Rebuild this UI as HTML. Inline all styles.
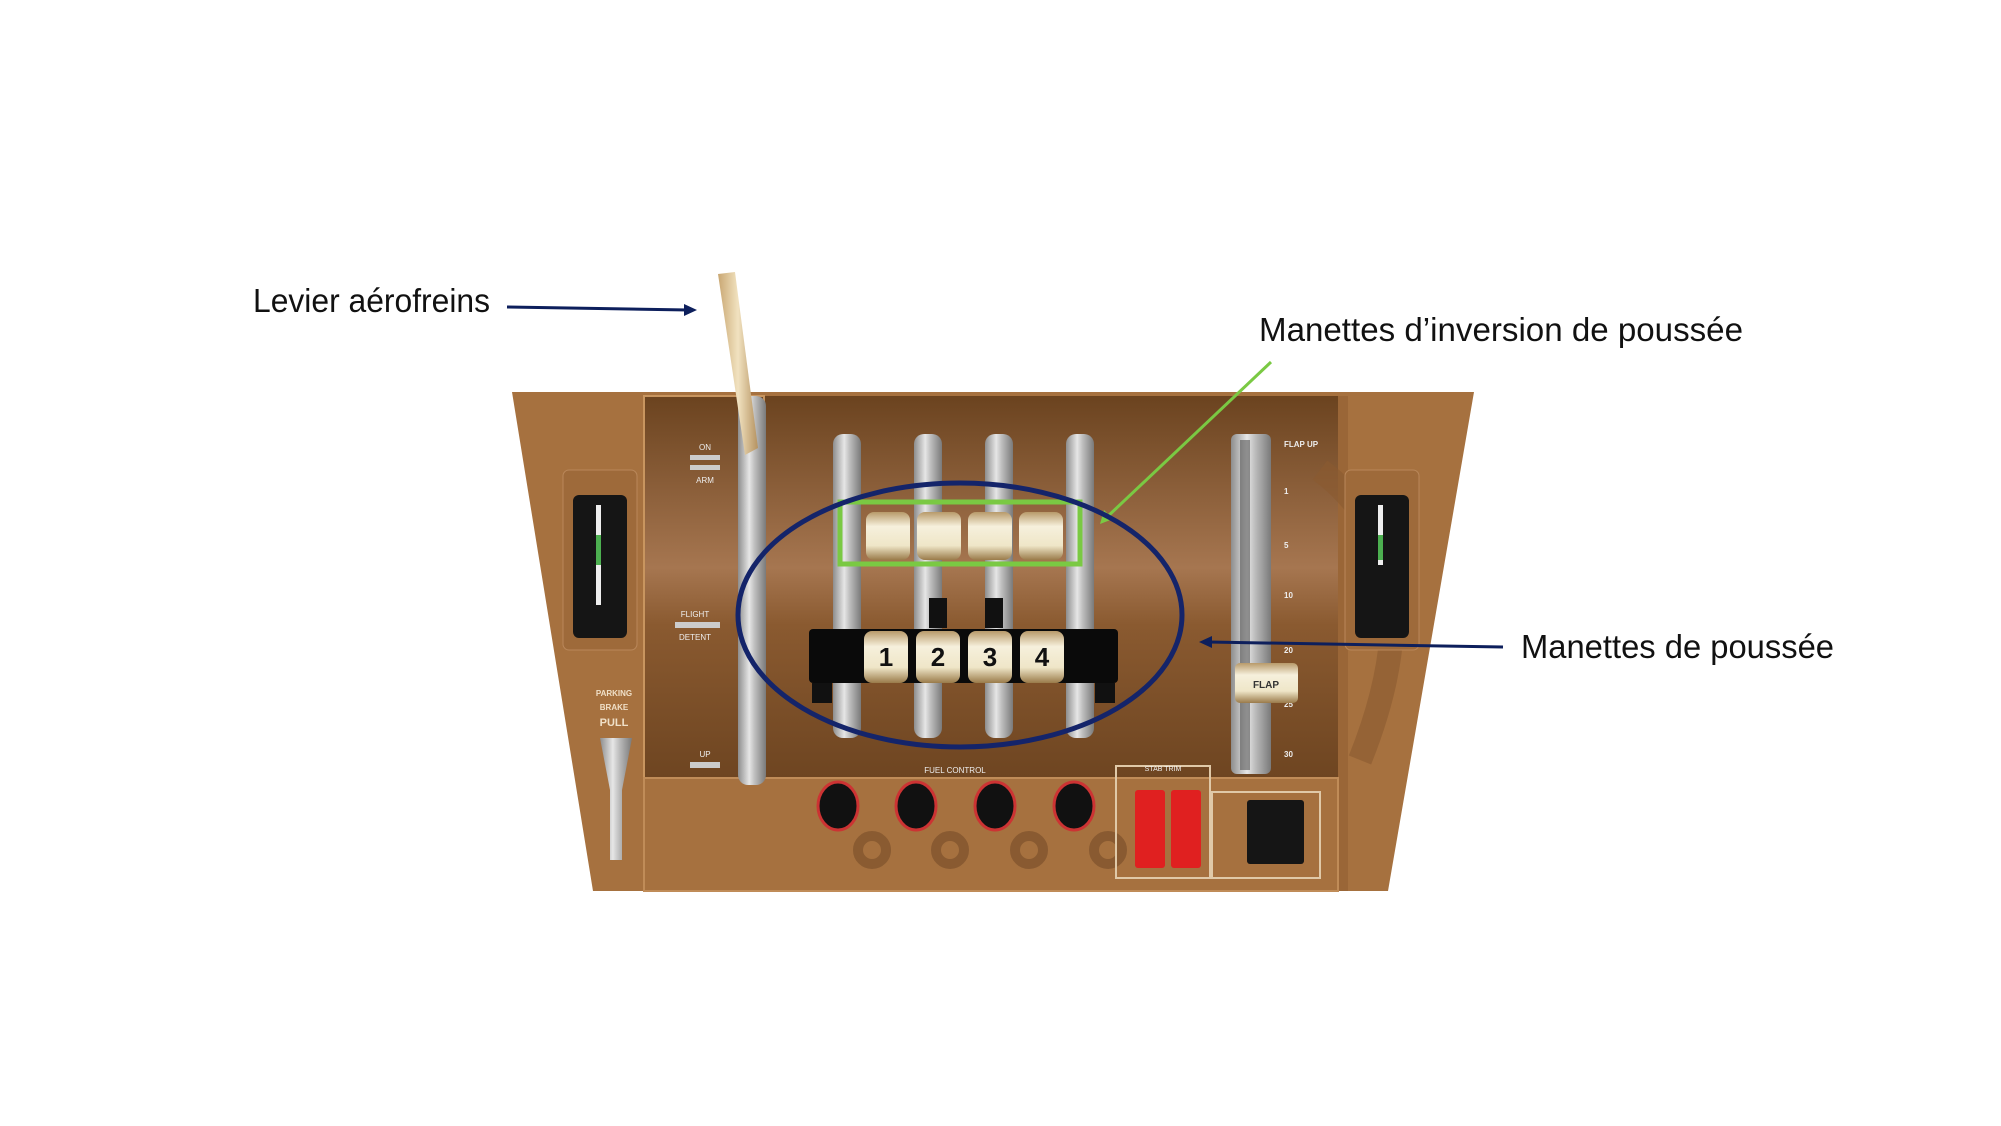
<!DOCTYPE html>
<html><head><meta charset="utf-8"><style>html,body{margin:0;padding:0;background:#fff}svg{display:block}</style></head>
<body>
<svg width="2001" height="1126" viewBox="0 0 2001 1126" xmlns="http://www.w3.org/2000/svg" font-family="Liberation Sans, sans-serif">
<defs>
<linearGradient id="inner" x1="0" y1="0" x2="0" y2="1">
<stop offset="0" stop-color="#6b431f"/><stop offset="0.45" stop-color="#a67650"/><stop offset="0.6" stop-color="#8a5a30"/><stop offset="1" stop-color="#6e4521"/></linearGradient>
<linearGradient id="rail" x1="0" y1="0" x2="1" y2="0">
<stop offset="0" stop-color="#8d8d8d"/><stop offset="0.4" stop-color="#e6e6e6"/><stop offset="0.6" stop-color="#bdbdbd"/><stop offset="1" stop-color="#7a7a7a"/></linearGradient>
<linearGradient id="knob" x1="0" y1="0" x2="0" y2="1">
<stop offset="0" stop-color="#b89a6a"/><stop offset="0.3" stop-color="#f6f0dc"/><stop offset="0.7" stop-color="#efe6c8"/><stop offset="1" stop-color="#9a7b4a"/></linearGradient>
<linearGradient id="handle" x1="0" y1="0" x2="1" y2="0">
<stop offset="0" stop-color="#c9a772"/><stop offset="0.5" stop-color="#f1e2c0"/><stop offset="1" stop-color="#b59260"/></linearGradient>
</defs>
<!-- panel -->
<polygon points="512,392 1474,392 1388,891 593,891" fill="#a6713f"/>
<rect x="644" y="396" width="694" height="382" fill="url(#inner)"/>
<rect x="644" y="396" width="120" height="382" fill="url(#inner)" stroke="#c8955f" stroke-width="2"/>
<rect x="1338" y="396" width="10" height="495" fill="#9a6637"/>
<rect x="644" y="778" width="694" height="113" fill="#a6713f" stroke="#c08c58" stroke-width="2"/>
<path d="M1320 470 Q1440 560 1360 760" stroke="#8a5a30" stroke-width="24" fill="none" opacity="0.6"/>
<!-- left gauge -->
<rect x="563" y="470" width="74" height="180" rx="6" fill="#9e6a3a" stroke="#b9875a"/>
<rect x="573" y="495" width="54" height="143" rx="6" fill="#151515"/>
<rect x="596" y="505" width="5" height="100" fill="#eee"/><rect x="596" y="535" width="5" height="30" fill="#4caf50"/>
<rect x="1345" y="470" width="74" height="180" rx="6" fill="#9e6a3a" stroke="#b9875a"/>
<rect x="1355" y="495" width="54" height="143" rx="6" fill="#151515"/>
<rect x="1378" y="505" width="5" height="60" fill="#eee"/><rect x="1378" y="535" width="5" height="25" fill="#4caf50"/>
<!-- parking brake -->
<text x="614" y="696" font-size="8" fill="#f0e0c8" text-anchor="middle" font-weight="bold">PARKING</text>
<text x="614" y="710" font-size="8" fill="#f0e0c8" text-anchor="middle" font-weight="bold">BRAKE</text>
<text x="614" y="726" font-size="11" fill="#f0e0c8" text-anchor="middle" font-weight="bold">PULL</text>
<path d="M600 738 L632 738 L622 790 L622 860 L610 860 L610 790 Z" fill="url(#rail)"/>
<!-- speedbrake labels -->
<text x="705" y="450" font-size="8" fill="#eee" text-anchor="middle">ON</text>
<rect x="690" y="455" width="30" height="5" fill="#ccc"/><rect x="690" y="465" width="30" height="5" fill="#ccc"/>
<text x="705" y="483" font-size="8" fill="#eee" text-anchor="middle">ARM</text>
<text x="695" y="617" font-size="8" fill="#eee" text-anchor="middle">FLIGHT</text>
<rect x="675" y="622" width="45" height="6" fill="#ccc"/>
<text x="695" y="640" font-size="8" fill="#eee" text-anchor="middle">DETENT</text>
<text x="705" y="757" font-size="8" fill="#eee" text-anchor="middle">UP</text>
<rect x="690" y="762" width="30" height="6" fill="#ccc"/>
<rect x="738" y="396" width="28" height="389" rx="10" fill="url(#rail)"/>
<polygon points="718,274 735,272 758,448 745,455" fill="url(#handle)"/>
<!-- thrust rails -->
<g fill="url(#rail)">
<rect x="833" y="434" width="28" height="304" rx="10"/><rect x="914" y="434" width="28" height="304" rx="10"/>
<rect x="985" y="434" width="28" height="304" rx="10"/><rect x="1066" y="434" width="28" height="304" rx="10"/></g>
<!-- reverser knobs -->
<g fill="url(#knob)">
<rect x="866" y="512" width="44" height="48" rx="8"/><rect x="917" y="512" width="44" height="48" rx="8"/>
<rect x="968" y="512" width="44" height="48" rx="8"/><rect x="1019" y="512" width="44" height="48" rx="8"/></g>
<rect x="929" y="598" width="18" height="30" fill="#111"/><rect x="985" y="598" width="18" height="30" fill="#111"/>
<!-- black bar -->
<rect x="809" y="629" width="309" height="54" rx="4" fill="#0a0a0a"/>
<rect x="812" y="683" width="20" height="20" fill="#111"/><rect x="1095" y="683" width="20" height="20" fill="#111"/>
<g fill="url(#knob)">
<rect x="864" y="631" width="44" height="52" rx="8"/><rect x="916" y="631" width="44" height="52" rx="8"/>
<rect x="968" y="631" width="44" height="52" rx="8"/><rect x="1020" y="631" width="44" height="52" rx="8"/></g>
<g font-size="26" font-weight="bold" fill="#111" text-anchor="middle">
<text x="886" y="666">1</text><text x="938" y="666">2</text><text x="990" y="666">3</text><text x="1042" y="666">4</text></g>
<!-- flap -->
<rect x="1231" y="434" width="40" height="340" rx="6" fill="url(#rail)"/>
<rect x="1240" y="440" width="10" height="330" fill="#555" opacity="0.6"/>
<g font-size="8" fill="#eee" font-weight="bold">
<text x="1284" y="447">FLAP UP</text><text x="1284" y="494">1</text><text x="1284" y="548">5</text><text x="1284" y="598">10</text>
<text x="1284" y="653">20</text><text x="1284" y="707">25</text><text x="1284" y="757">30</text></g>
<rect x="1235" y="663" width="63" height="40" rx="5" fill="url(#knob)"/>
<text x="1266" y="688" font-size="10" font-weight="bold" fill="#333" text-anchor="middle">FLAP</text>
<!-- fuel control -->
<text x="955" y="773" font-size="8" fill="#eee" text-anchor="middle">FUEL CONTROL</text>
<g fill="#111" stroke="#c33" stroke-width="3">
<ellipse cx="838" cy="806" rx="20" ry="24"/><ellipse cx="916" cy="806" rx="20" ry="24"/>
<ellipse cx="995" cy="806" rx="20" ry="24"/><ellipse cx="1074" cy="806" rx="20" ry="24"/></g>
<g fill="none" stroke="#6d4524" stroke-width="10" opacity="0.5">
<circle cx="872" cy="850" r="14"/><circle cx="950" cy="850" r="14"/><circle cx="1029" cy="850" r="14"/><circle cx="1108" cy="850" r="14"/></g>
<!-- stab trim -->
<rect x="1116" y="766" width="94" height="112" fill="none" stroke="#e0c9a8" stroke-width="2"/>
<text x="1163" y="771" font-size="7" fill="#eee" text-anchor="middle">STAB TRIM</text>
<rect x="1135" y="790" width="30" height="78" rx="3" fill="#e02020"/><rect x="1171" y="790" width="30" height="78" rx="3" fill="#e02020"/>
<rect x="1212" y="792" width="108" height="86" fill="none" stroke="#e0c9a8" stroke-width="2"/>
<rect x="1247" y="800" width="57" height="64" rx="3" fill="#151515"/>
<!-- annotations -->
<text x="253" y="312" font-size="33" fill="#111" textLength="237" lengthAdjust="spacingAndGlyphs">Levier aérofreins</text>
<line x1="507" y1="307" x2="688" y2="310" stroke="#0d1f5c" stroke-width="3"/>
<polygon points="697,310 684,304 684,316" fill="#0d1f5c"/>
<text x="1259" y="341" font-size="33" fill="#111" textLength="484" lengthAdjust="spacingAndGlyphs">Manettes d’inversion de poussée</text>
<line x1="1271" y1="362" x2="1106" y2="518" stroke="#7ac943" stroke-width="3"/>
<polygon points="1100,524 1104,510 1113,519" fill="#7ac943"/>
<text x="1521" y="658" font-size="33" fill="#111" textLength="313" lengthAdjust="spacingAndGlyphs">Manettes de poussée</text>
<line x1="1503" y1="647" x2="1208" y2="642" stroke="#0d1f5c" stroke-width="3"/>
<polygon points="1199,642 1212,636 1212,648" fill="#0d1f5c"/>
<rect x="840" y="502" width="240" height="62" fill="none" stroke="#7ac943" stroke-width="5"/>
<ellipse cx="960" cy="615" rx="222" ry="132" fill="none" stroke="#14246a" stroke-width="5"/>
</svg>
</body></html>
